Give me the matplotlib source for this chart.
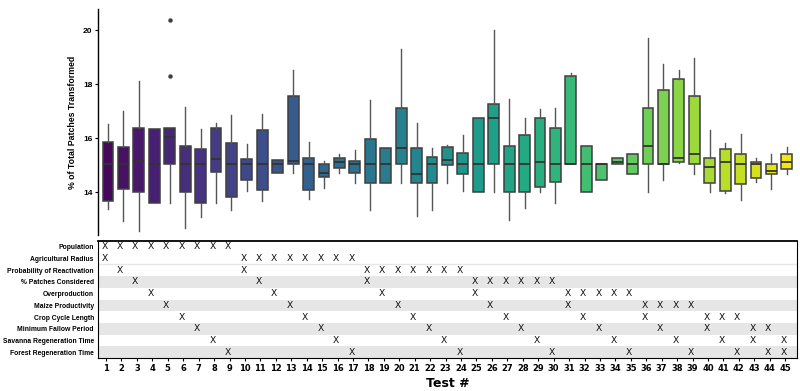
import numpy as np
import matplotlib.pyplot as plt
import seaborn as sns

# box statistics (% of total patches transformed)
tests = list(range(1, 46))
wh_lo = [13.38, 12.95, 12.58, 13.59, 13.59, 12.69, 13.09, 13.59, 13.35, 14.06,
         13.69, 14.70, 14.70, 13.74, 14.15, 14.70, 14.36, 13.35, 14.36, 14.36,
         13.12, 13.35, 14.36, 14.05, 14.00, 14.00, 12.98, 13.41, 14.02, 13.59,
         15.05, 14.00, 14.44, 15.06, 14.67, 14.00, 14.44, 15.07, 14.67, 14.00,
         13.96, 13.72, 14.37, 14.12, 14.67]
q1 = [13.67, 14.11, 14.00, 13.59, 15.05, 14.00, 13.59, 14.74, 13.84, 14.46,
      14.10, 14.70, 15.05, 14.09, 14.56, 14.91, 14.70, 14.36, 14.36, 15.05,
      14.36, 14.36, 15.00, 14.67, 14.00, 15.05, 14.00, 14.00, 14.19, 14.40,
      15.05, 14.00, 14.44, 15.06, 14.67, 15.05, 15.05, 15.11, 15.05, 14.33,
      14.04, 14.30, 14.52, 14.67, 14.88]
med = [15.05, 15.05, 15.17, 15.05, 16.06, 15.05, 15.05, 15.22, 15.06, 15.05,
       15.05, 15.05, 15.16, 15.05, 14.70, 15.14, 15.04, 15.05, 15.05, 15.64,
       14.68, 15.05, 15.21, 15.06, 15.05, 16.74, 15.05, 15.05, 15.12, 15.06,
       15.05, 15.05, 15.05, 15.12, 15.06, 15.72, 15.05, 15.28, 15.43, 14.93,
       15.11, 15.06, 15.06, 14.78, 15.14]
q3 = [15.85, 15.67, 16.37, 16.35, 16.37, 15.73, 15.62, 16.40, 15.81, 15.23,
      16.30, 15.19, 17.57, 15.28, 15.05, 15.26, 15.17, 15.98, 15.64, 17.11,
      15.63, 15.30, 15.67, 15.44, 16.74, 17.27, 15.72, 16.11, 16.77, 16.37,
      18.31, 15.70, 15.05, 15.28, 15.43, 17.11, 17.78, 18.19, 17.56, 15.26,
      15.62, 15.43, 15.14, 15.05, 15.43]
wh_hi = [16.52, 17.01, 18.12, 16.35, 16.37, 17.15, 16.36, 16.56, 16.86, 15.78,
         16.90, 15.19, 18.53, 15.85, 15.16, 15.42, 15.57, 17.42, 15.64, 19.30,
         16.56, 15.63, 15.74, 16.12, 16.74, 20.01, 17.44, 16.74, 17.07, 17.11,
         18.41, 15.70, 15.05, 15.28, 15.43, 19.70, 18.75, 18.52, 18.99, 16.31,
         15.81, 16.17, 15.27, 15.43, 15.69]
outliers = {5: [18.31, 20.38]}

params = ['Population', 'Agricultural Radius', 'Probability of Reactivation',
          '% Patches Considered', 'Overproduction', 'Maize Productivity',
          'Crop Cycle Length', 'Minimum Fallow Period',
          'Savanna Regeneration Time', 'Forest Regeneration Time']

# which two parameters were varied in each test (row index into params)
test_pairs = [(0, 1), (0, 2), (0, 3), (0, 4), (0, 5), (0, 6), (0, 7), (0, 8), (0, 9),
              (1, 2), (1, 3), (1, 4), (1, 5), (1, 6), (1, 7), (1, 8), (1, 9),
              (2, 3), (2, 4), (2, 5), (2, 6), (2, 7), (2, 8), (2, 9),
              (3, 4), (3, 5), (3, 6), (3, 7), (3, 8), (3, 9),
              (4, 5), (4, 6), (4, 7), (4, 8), (4, 9),
              (5, 6), (5, 7), (5, 8), (5, 9),
              (6, 7), (6, 8), (6, 9),
              (7, 8), (7, 9),
              (8, 9)]

colors = sns.color_palette('viridis', len(tests))
lab_font = 'Liberation Sans'

fig = plt.figure(figsize=(8, 3.91), dpi=100)

# ---- top: boxplots
ax = fig.add_axes([0.1225, 0.399, 0.874, 0.578])
stats = []
for i, t in enumerate(tests):
    stats.append(dict(whislo=wh_lo[i], q1=q1[i], med=med[i], q3=q3[i],
                      whishi=wh_hi[i], fliers=outliers.get(t, [])))
bp = ax.bxp(stats, positions=tests, widths=0.7, patch_artist=True, showcaps=False,
            boxprops=dict(edgecolor='#3f3f3f', linewidth=1.1),
            medianprops=dict(color='#333333', linewidth=1.3),
            whiskerprops=dict(color='#555555', linewidth=1),
            flierprops=dict(marker='o', markersize=2.2, markerfacecolor='#3f3f3f',
                            markeredgecolor='#3f3f3f'))
for patch, c in zip(bp['boxes'], colors):
    patch.set_facecolor(c)

ax.set_xlim(0.35, 45.67)
ax.set_ylim(12.42, 20.79)
ax.set_xticks([])
ax.set_yticks([14, 16, 18, 20])
ax.set_yticklabels(['14', '16', '18', '20'], fontsize=6, fontweight='bold', family=lab_font)
ax.tick_params(axis='y', length=2, width=0.8, pad=2)
for s in ['top', 'right', 'bottom']:
    ax.spines[s].set_visible(False)
ax.spines['left'].set_linewidth(1)
ax.set_ylabel('% of Total Patches Transformed', fontsize=6.3, fontweight='bold',
              family=lab_font, labelpad=4)

# ---- bottom: parameter table
ax2 = fig.add_axes([0.1225, 0.0844, 0.874, 0.2992])
ax2.set_xlim(0.48, 45.78)
ax2.set_ylim(len(params) - 0.5, -0.5)
for r in range(3, len(params), 2):
    ax2.axhspan(r - 0.5, r + 0.5, color='#e6e6e6', lw=0)
ax2.axhline(1.5, color='#e6e6e6', lw=1)

for t, pair in zip(tests, test_pairs):
    for r in pair:
        ax2.text(t - 0.1, r, 'X', ha='center', va='center', fontsize=6.6,
                 color='#111111')

ax2.set_yticks(range(len(params)))
ax2.set_yticklabels(params, fontsize=4.9, fontweight='bold', family=lab_font)
ax2.tick_params(axis='y', length=0, pad=3)
ax2.set_xticks(tests)
ax2.set_xticklabels([str(t) for t in tests], fontsize=6, fontweight='bold')
ax2.tick_params(axis='x', length=2, width=0.8, pad=2)
ax2.spines['top'].set_linewidth(1.3)
ax2.set_xlabel('Test #', fontsize=9, fontweight='bold', labelpad=3)

fig.savefig('out.png', dpi=100)
